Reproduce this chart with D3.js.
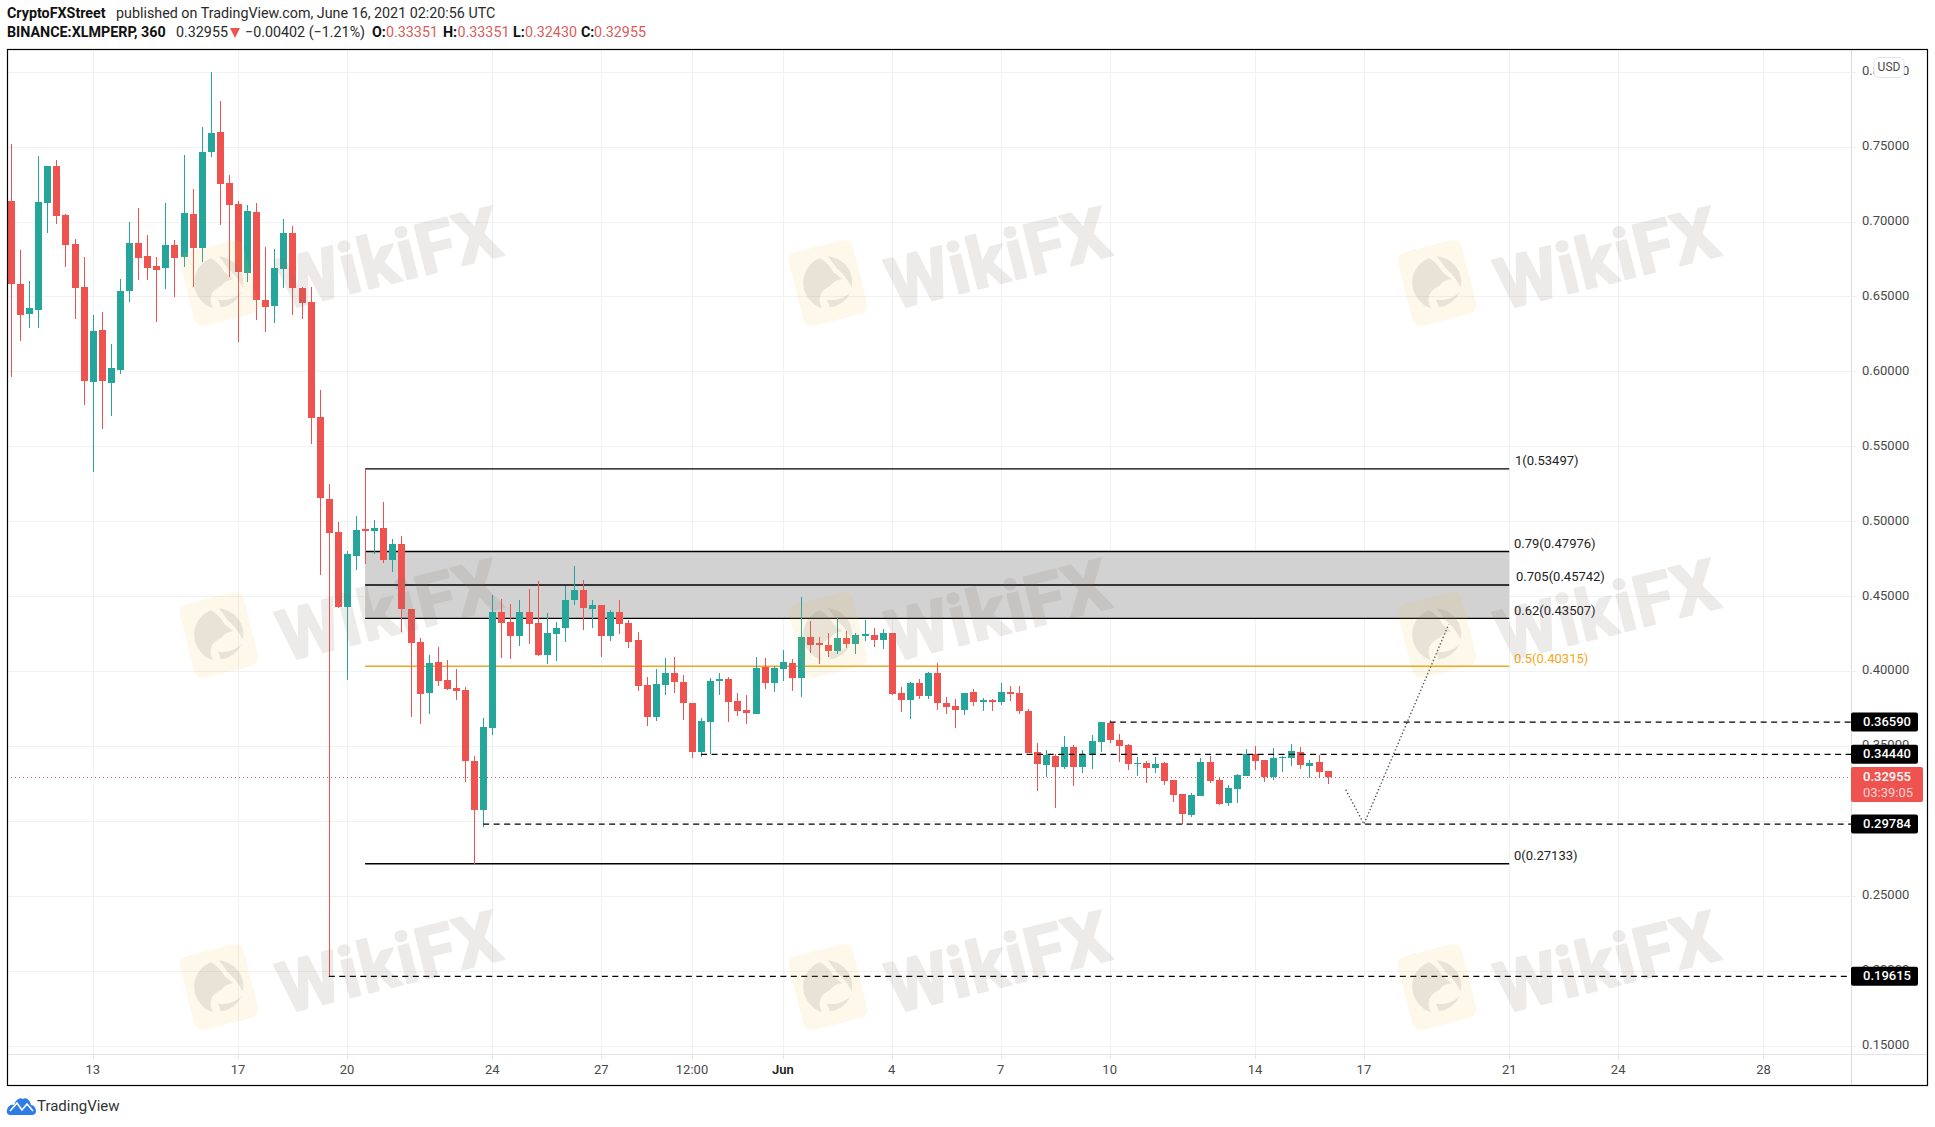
<!DOCTYPE html>
<html><head><meta charset="utf-8">
<script src="https://cdn.jsdelivr.net/npm/d3@7/dist/d3.min.js"></script>
<style>
html,body{margin:0;padding:0;background:#fff;}
svg{display:block;}
text{font-family:Roboto,sans-serif;}
</style></head><body>
<svg id="c" width="1935" height="1127"></svg>
<script>
const opens=[.7140,.6585,.6385,.6412,.7126,.7373,.7046,.6852,.6565,.5931,.6278,.5925,.6011,.6539,.6859,.6772,.6706,.6692,.6846,.6766,
.7053,.6826,.7467,.7600,.7260,.7119,.6658,.7066,.6479,.6439,.6686,.6926,.6559,.6465,.5698,.5150,.4930,.4429,.4770,.4950,
.4937,.4956,.4743,.4850,.4416,.4196,.3855,.4062,.3942,.3889,.3875,.3401,.3074,.3621,.4396,.4329,.4235,.4396,.4322,.4109,
.4249,.4289,.4476,.4543,.4416,.4442,.4235,.4396,.4322,.4209,.3908,.3695,.3908,.3988,.3928,.3788,.3461,.3661,.3935,.3948,
.3802,.3742,.3715,.4029,.3922,.4015,.4055,.3955,.4229,.4189,.4176,.4135,.4222,.4182,.4235,.4242,.4209,.4256,.3855,.3808,
.3922,.3835,.3988,.3788,.3768,.3742,.3862,.3795,.3808,.3795,.3862,.3855,.3735,.3461,.3375,.3434,.3361,.3495,.3361,.3441,
.3528,.3655,.3541,.3508,.3381,.3388,.3355,.3388,.3274,.3181,.3041,.3168,.3395,.3274,.3121,.3214,.3301,.3448,.3408,.3294,
.3421,.3421,.3461,.3368,.3395,.33351];
const highs=[.7520,.6812,.6605,.7440,.7373,.7413,.7053,.6886,.6766,.6379,.6398,.6185,.6619,.6999,.7093,.6913,.6766,.7126,.6879,.7447,
.7220,.7633,.8001,.7807,.7313,.7139,.7113,.7126,.6832,.6819,.7019,.6973,.6565,.6565,.5878,.5250,.4996,.4803,.5037,.5350,
.5010,.5130,.4883,.4903,.4416,.4222,.4109,.4162,.4075,.4015,.3895,.3434,.3688,.4509,.4483,.4449,.4476,.4549,.4603,.4389,
.4329,.4569,.4703,.4609,.4476,.4442,.4409,.4476,.4342,.4262,.3962,.4015,.4089,.4095,.3975,.3788,.3688,.3955,.3988,.3962,
.3855,.3841,.4095,.4089,.4035,.4142,.4082,.4496,.4336,.4229,.4256,.4356,.4269,.4256,.4342,.4289,.4282,.4256,.3895,.3928,
.3948,.3995,.4055,.3828,.3815,.3855,.3882,.3822,.3815,.3922,.3902,.3902,.3748,.3521,.3475,.3448,.3568,.3508,.3475,.3575,
.3659,.3675,.3581,.3515,.3428,.3401,.3428,.3395,.3274,.3181,.3187,.3421,.3434,.3294,.3241,.3314,.3481,.3501,.3408,.3488,
.3434,.3515,.3495,.3408,.3441,.33351];
const lows=[.5965,.6205,.6292,.6292,.6926,.6986,.6699,.6352,.5778,.5330,.5618,.5704,.5985,.6465,.6612,.6612,.6332,.6552,.6499,.6699,
.6565,.6732,.7433,.6979,.6632,.6198,.6599,.6345,.6265,.6325,.6559,.6379,.6352,.5517,.4642,.19615,.4422,.3942,.4676,.4716,
.4783,.4723,.4663,.4262,.3695,.3648,.3715,.3902,.3875,.3808,.3261,.27133,.2961,.3575,.4089,.4082,.4169,.4182,.4102,.4048,
.4069,.4196,.4442,.4276,.4289,.4095,.4202,.4249,.4155,.3868,.3635,.3668,.3841,.3855,.3675,.3421,.3428,.3448,.3841,.3661,
.3701,.3648,.3715,.3882,.3862,.3935,.3868,.3828,.4122,.4048,.4095,.4115,.4155,.4115,.4202,.4162,.4149,.3841,.3728,.3681,
.3815,.3815,.3742,.3715,.3621,.3708,.3768,.3735,.3735,.3775,.3802,.3715,.3455,.3201,.3294,.3087,.3348,.3234,.3321,.3348,
.3461,.3521,.3395,.3341,.3301,.3254,.3321,.3241,.3128,.29784,.3027,.3168,.3254,.3107,.3101,.3121,.3301,.3341,.3261,.3274,
.3328,.3368,.3348,.3288,.3288,.3243];
const closes=[.6585,.6379,.6425,.7133,.7373,.7039,.6846,.6559,.5938,.6272,.5938,.6025,.6539,.6859,.6759,.6692,.6679,.6846,.6759,.7059,
.6826,.7467,.7593,.7253,.7113,.6665,.7073,.6479,.6432,.6692,.6926,.6559,.6458,.5691,.5155,.4923,.4429,.4783,.4943,.4937,
.4956,.4743,.4850,.4416,.4189,.3848,.4055,.3935,.3882,.3868,.3401,.3074,.3628,.4396,.4322,.4235,.4396,.4316,.4109,.4256,
.4289,.4476,.4543,.4423,.4442,.4235,.4396,.4316,.4196,.3902,.3695,.3915,.3988,.3928,.3788,.3461,.3668,.3935,.3948,.3795,
.3735,.3722,.4022,.3922,.4022,.4062,.3955,.4229,.4176,.4176,.4135,.4222,.4182,.4242,.4249,.4209,.4256,.3848,.3808,.3922,
.3835,.3988,.3788,.3762,.3742,.3855,.3795,.3808,.3795,.3862,.3848,.3735,.3455,.3381,.3441,.3361,.3495,.3361,.3448,.3535,
.3659,.3541,.3501,.3381,.3388,.3355,.3381,.3268,.3174,.3047,.3174,.3395,.3268,.3114,.3221,.3308,.3448,.3401,.3294,.3421,
.3428,.3468,.3375,.3388,.3328,.32955];

const priceTicks=[.15,.20,.25,.30,.35,.40,.45,.50,.55,.60,.65,.70,.75,.80];
const timeTickLabels=["13","17","20","24","27","12:00","Jun","4","7","10","14","17","21","24","28"];
const timeTickDates=["2021-05-13T00","2021-05-17T00","2021-05-20T00","2021-05-24T00","2021-05-27T00","2021-05-29T12","2021-06-01T00","2021-06-04T00","2021-06-07T00","2021-06-10T00","2021-06-14T00","2021-06-17T00","2021-06-21T00","2021-06-24T00","2021-06-28T00"];
const fibRatios=["1","0.79","0.705","0.62","0.5","0"];
const fibPrices=[.53497,.47976,.45742,.43507,.40315,.27133];
const fibStart="2021-05-20T12", fibEnd="2021-06-21T00";
const levelPrices=[.3659,.3444,.29784,.19615];
const levelLabels=["0.36590","0.34440","0.29784","0.19615"];
const levelStarts=["2021-06-10T00","2021-05-29T18","2021-05-23T18","2021-05-19T12"];
const pathDates=["2021-06-16T12","2021-06-17T00","2021-06-19T08"];
const pathPrices=[.3208,.2978,.4311];
const lastPrice=.32955, countdown="03:39:05";

const firstBar=Date.UTC(2021,4,10,18), sixH=6*3600e3;
const dateOf=i=>new Date(firstBar+i*sixH);
const parse=d3.utcParse("%Y-%m-%dT%H");

const L=7,T=49,R=1927,B=1085,AX=1851,BOT=1054;
const x=d3.scaleUtc().domain([dateOf(0),dateOf(200)]).range([11,11+200*9.08]);
const y=d3.scaleLinear().domain([.25,.75]).range([895.7,146.7]);
const svg=d3.select("#c");
svg.append("defs").append("clipPath").attr("id","plot").append("rect").attr("x",L).attr("y",T).attr("width",AX-L).attr("height",BOT-T);
const TXT="#4a4a4a";

// grid
const g=svg.append("g").attr("shape-rendering","crispEdges");
g.selectAll(".h").data(priceTicks).join("line").attr("x1",L).attr("x2",AX).attr("y1",d=>Math.round(y(d))).attr("y2",d=>Math.round(y(d))).attr("stroke","#f0f1f4");
g.selectAll(".v").data(timeTickDates).join("line").attr("y1",T).attr("y2",BOT).attr("x1",d=>Math.round(x(parse(d)))).attr("x2",d=>Math.round(x(parse(d)))).attr("stroke","#f0f1f4");
g.append("g").selectAll("line").data(timeTickDates).join("line").attr("y1",BOT).attr("y2",BOT+5).attr("x1",d=>Math.round(x(parse(d)))).attr("x2",d=>Math.round(x(parse(d)))).attr("stroke","#dfe1e6");

// fib band and lines
const f=svg.append("g");
f.append("rect").attr("x",x(parse(fibStart))).attr("width",x(parse(fibEnd))-x(parse(fibStart))).attr("y",y(fibPrices[1])).attr("height",y(fibPrices[3])-y(fibPrices[1])).attr("fill","#d2d2d2");
f.selectAll("line").data(fibPrices).join("line").attr("x1",x(parse(fibStart))).attr("x2",x(parse(fibEnd))).attr("y1",d=>y(d)).attr("y2",d=>y(d)).attr("stroke",(d,i)=>i==4?"#e8a820":"#000").attr("stroke-width",(d,i)=>i==4?1.5:1.3);
const fibDx=[1,0,2,0,0,0];
f.selectAll("text").data(fibPrices).join("text").attr("x",(d,i)=>1514+fibDx[i]).attr("y",d=>y(d)-7).attr("dominant-baseline","middle").attr("font-size",13).attr("fill",(d,i)=>i==4?"#f5a623":"#222").text((d,i)=>`${fibRatios[i]}(${d.toFixed(5)})`);

// last price line
svg.append("line").attr("x1",L).attr("x2",AX).attr("y1",Math.round(y(lastPrice))+.5).attr("y2",Math.round(y(lastPrice))+.5).attr("stroke","#c4605c").attr("stroke-width",1).attr("stroke-dasharray","1 3");

// candles
const UP="#26a69a",DN="#ef5350";
const bars=d3.range(opens.length).map(i=>({i,t:dateOf(i),o:opens[i],h:highs[i],l:lows[i],c:closes[i]}));
const cg=svg.append("g").attr("clip-path","url(#plot)").attr("shape-rendering","crispEdges");
const color=d=>d.c>=d.o?UP:DN;
cg.selectAll(".w").data(bars).join("line").attr("x1",d=>Math.round(x(d.t))+.5).attr("x2",d=>Math.round(x(d.t))+.5).attr("y1",d=>y(d.h)).attr("y2",d=>y(d.l)).attr("stroke",color);
cg.selectAll(".b").data(bars).join("rect").attr("x",d=>Math.round(x(d.t))-3).attr("width",7).attr("y",d=>y(Math.max(d.o,d.c))).attr("height",d=>Math.max(1.5,Math.abs(y(d.o)-y(d.c)))).attr("fill",color);

// dashed levels
svg.append("g").selectAll("line").data(levelPrices).join("line").attr("x1",(d,i)=>x(parse(levelStarts[i]))).attr("x2",AX).attr("y1",d=>y(d)).attr("y2",d=>y(d)).attr("stroke","#000").attr("stroke-width",1.3).attr("stroke-dasharray","6 4.5");

// dotted projection
const pts=pathDates.map((d,i)=>[x(parse(d)),y(pathPrices[i])]);
svg.append("path").attr("d",d3.line()(pts)).attr("fill","none").attr("stroke","#555").attr("stroke-width",1.4).attr("stroke-dasharray","1.4 2.2");

// watermarks
const wmX=[219,828,1437], wmY=[283,635,987];
const wm=svg.append("g");
wmY.forEach(cy=>wmX.forEach(cx=>{
  const m=wm.append("g").attr("transform",`translate(${cx},${cy}) rotate(-14)`);
  m.append("rect").attr("x",-33).attr("y",-38).attr("width",66).attr("height",76).attr("rx",9).attr("fill","#f6b73c").attr("opacity",.10);
  const e=m.append("g").attr("fill","#7a736c").attr("opacity",.15);
  e.append("path").attr("d","M-2,-26 A26,26 0 0 0 -24,6 C-22,14 -18,19 -12,23 C-14,14 -11,8 -4,5 L2,3 C6,0 10,-1 15,0 L8,-9 C6,-16 3,-22 -2,-26Z");
  e.append("path").attr("d","M6,-26 A27,27 0 0 1 24,-6 A27,27 0 0 1 22,10 C20,2 17,-6 12,-12 C10,-18 8,-22 6,-26Z");
  e.append("path").attr("d","M-4,24 A27,27 0 0 0 20,14 C14,18 4,20 -5,16 Z");
  wm.append("text").attr("transform",`translate(${cx+172},${cy-19}) rotate(-14)`).attr("text-anchor","middle").attr("dominant-baseline","middle")
    .attr("font-family","'Open Sans',sans-serif").attr("font-weight",700).attr("font-size",71).attr("letter-spacing",1)
    .attr("stroke","#7a6a60").attr("stroke-width",2).attr("stroke-linejoin","round").attr("fill","#7a6a60").attr("opacity",.13).text("WikiFX");
}));

// axis separators
svg.append("line").attr("x1",AX+.5).attr("x2",AX+.5).attr("y1",T).attr("y2",B).attr("stroke","#d9dbe0").attr("stroke-width",1);
svg.append("line").attr("x1",L).attr("x2",R).attr("y1",BOT+.5).attr("y2",BOT+.5).attr("stroke","#e3e5ea").attr("stroke-width",1);

// price axis
svg.append("g").selectAll("text").data(priceTicks).join("text").attr("x",1862).attr("y",d=>y(d)).attr("dominant-baseline","middle").attr("font-size",13).attr("fill",TXT).text(d=>d.toFixed(5));
svg.append("g").selectAll("line").data(priceTicks).join("line").attr("x1",AX).attr("x2",AX+5).attr("y1",d=>Math.round(y(d))).attr("y2",d=>Math.round(y(d))).attr("stroke","#eceef2").attr("shape-rendering","crispEdges");

// level tags
const tg=svg.append("g");
tg.selectAll("rect").data(levelPrices).join("rect").attr("x",AX).attr("width",67).attr("y",d=>y(d)-9.5).attr("height",19).attr("rx",2).attr("fill","#000");
tg.selectAll("text").data(levelPrices).join("text").attr("x",1863).attr("y",d=>y(d)+.5).attr("dominant-baseline","middle").attr("font-size",13).attr("font-weight",500).attr("fill","#fff").text((d,i)=>levelLabels[i]);
tg.append("rect").attr("x",AX).attr("width",72).attr("y",y(lastPrice)-9.5).attr("height",35).attr("rx",2).attr("fill",DN);
tg.append("text").attr("x",1863).attr("y",y(lastPrice)+1).attr("dominant-baseline","middle").attr("font-size",13).attr("font-weight",500).attr("fill","#fff").text(lastPrice.toFixed(5));
tg.append("text").attr("x",1863).attr("y",y(lastPrice)+17).attr("dominant-baseline","middle").attr("font-size",13).attr("fill","#fbd4d3").text(countdown);

// USD
const u=svg.append("g");
u.append("rect").attr("x",1874).attr("y",57.5).attr("width",30).attr("height",20).attr("rx",5).attr("fill","#fff").attr("stroke","#e0e3eb");
u.append("text").attr("x",1889).attr("y",67.5).attr("text-anchor","middle").attr("dominant-baseline","middle").attr("font-size",12).attr("fill",TXT).text("USD");

// time axis labels
svg.append("g").selectAll("text").data(timeTickDates).join("text").attr("x",d=>x(parse(d))).attr("y",1071).attr("text-anchor","middle").attr("dominant-baseline","middle").attr("font-size",13).attr("font-weight",(d,i)=>timeTickLabels[i]=="Jun"?600:400).attr("fill",(d,i)=>timeTickLabels[i]=="Jun"?"#222":TXT).text((d,i)=>timeTickLabels[i]);

// frame
svg.append("rect").attr("x",L+.5).attr("y",T+.5).attr("width",R-L).attr("height",B-T).attr("fill","none").attr("stroke","#000").attr("stroke-width",1.2);

// header
const h1=svg.append("g").attr("font-size",14.3);
const put=(xp,yp,t,o={})=>h1.append("text").attr("x",xp).attr("y",yp).attr("dominant-baseline","middle").attr("fill",o.c||"#2a2a2a").attr("font-weight",o.b?700:400).text(t);
put(7,14.5,"CryptoFXStreet",{b:1,c:"#111"});
put(116,14.5,"published on TradingView.com, June 16, 2021 02:20:56 UTC");
put(7,33,"BINANCE:XLMPERP, 360",{b:1,c:"#111"});
put(176,33,"0.32955");
h1.append("path").attr("d",d3.line()([[230,28],[240,28],[235,38]])+"Z").attr("fill",DN);
put(245,33,"−0.00402 (−1.21%)");
const ohlc=[["O:","0.33351",372,386],["H:","0.33351",443,457.5],["L:","0.32430",513,525],["C:","0.32955",581,594]];
ohlc.forEach(a=>{put(a[2],33,a[0],{b:1,c:"#111"});put(a[3],33,a[1],{c:"#d9605c"});});

// logo
const lg=svg.append("g").attr("transform","translate(7,1097)");
lg.append("path").attr("d","M0,13 C1,8 5,7 7,8 C9,2 13,0 16,2 C19,0 23,3 24,8 C27,8 29,11 29,14 C29,17 27,18 25,18 L4,18 C1,18 -1,16 0,13Z").attr("fill","#2d7de8");
lg.append("path").attr("d","M3,14 L10,6 L15,13 L20,7 L26,14").attr("fill","none").attr("stroke","#fff").attr("stroke-width",1.6);
svg.append("text").attr("x",37).attr("y",1107).attr("dominant-baseline","middle").attr("font-size",15).attr("fill","#333").text("TradingView");
</script></body></html>
